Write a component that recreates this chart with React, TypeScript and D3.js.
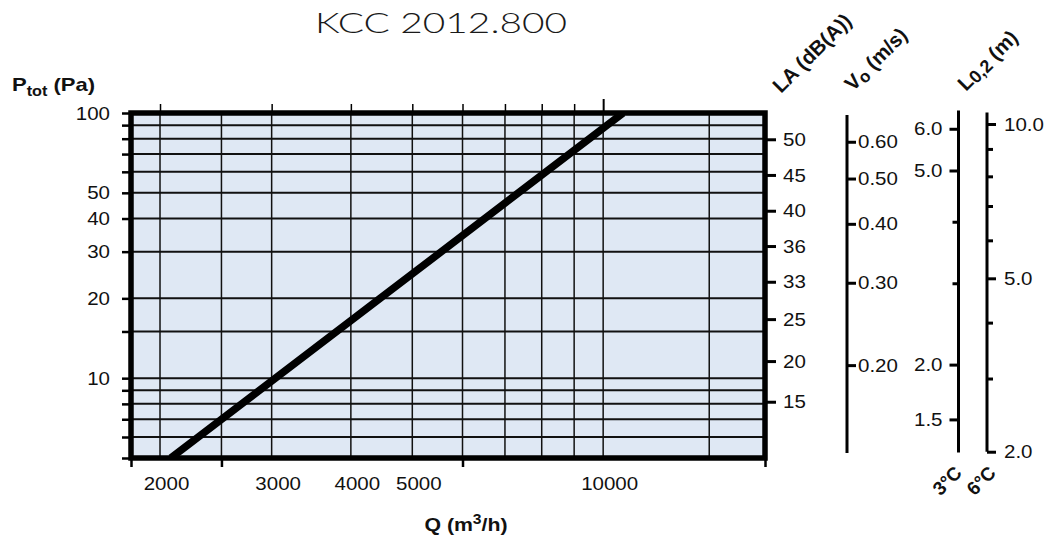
import React, { useEffect, useRef } from 'react';
import * as d3 from 'd3';

const title = 'KCC 2012.800';

// pressure axis, Ptot (Pa)
const pTicks = [100, 90, 80, 70, 60, 50, 40, 30, 20, 15, 10, 9, 8, 7, 6, 5];
const pLabels = [100, 50, 40, 30, 20, 10];
const pGrid = [90, 80, 70, 60, 50, 40, 30, 20, 15, 10, 9, 8, 7, 6];

// air flow axis, Q (m3/h)
const qGrid = [2000, 2500, 3000, 4000, 5000, 6000, 7000, 8000, 9000, 10000, 14700];
const qTopTicks = [2000, 3000, 4000, 5000, 6000, 7000, 8000, 9000];
const qTopMajor = [10000];
const qBottomTicks = [1800, 2500, 6000, 18000];
const qLabels = [2000, 3000, 4000, 5000, 10000];

// curve
const curveQ = [2080, 3040, 4450, 10750];
const curveP = [5, 10, 20, 100];

// side scales: label and the pressure it lines up with
const laLabels = ['50', '45', '40', '36', '33', '25', '20', '15'];
const laAtP = [79.6, 58.4, 42.8, 31.5, 23.1, 16.7, 11.6, 8.15];
const voLabels = ['0.60', '0.50', '0.40', '0.30', '0.20'];
const voAtP = [77.9, 56.6, 38.2, 22.9, 11.2];
const voSpan = [98.3, 5.22];
const l3Labels = ['6.0', '5.0', '', '', '2.0', '1.5'];
const l3AtP = [87.2, 60.7, 38.9, 22.8, 11.25, 6.99];
const l3Span = [102.2, 5.24];
const l6Labels = ['10.0', '', '', '', '', '5.0', '', '', '2.0'];
const l6AtP = [90.9, 73.2, 57.7, 44.6, 33.1, 23.8, 16.2, 9.97, 5.28];
const l6Span = [100.4, 5.28];

const FONT = '"Liberation Sans", Arial, sans-serif';

const stretch = (sel: any, origin: string, k = 1.08) =>
  sel.style('transform-box', 'fill-box').style('transform-origin', origin).style('transform', `scaleX(${k})`);

const App = () => {
  const ref = useRef<SVGSVGElement>(null);

  useEffect(() => {
    const svg = d3.select(ref.current);
    svg.selectAll('*').remove();

    const x = d3.scaleLog().domain([1800, 18000]).range([131, 765]);
    const y = d3.scaleLog().domain([100, 5]).range([113, 458]);
    const [x0, x1] = x.range();
    const [y0, y1] = y.range();

    // title
    svg.append('text')
      .attr('x', 441).attr('y', 33)
      .attr('text-anchor', 'middle')
      .attr('font-family', 'Lato, "Liberation Sans", sans-serif')
      .attr('font-weight', 300)
      .attr('font-size', 28)
      .attr('fill', '#1a1a1a')
      .attr('textLength', 252)
      .attr('lengthAdjust', 'spacingAndGlyphs')
      .text(title);

    // plot area
    svg.append('clipPath').attr('id', 'plot-clip')
      .append('rect').attr('x', x0).attr('y', y0).attr('width', x1 - x0).attr('height', y1 - y0);

    svg.append('rect')
      .attr('x', x0).attr('y', y0).attr('width', x1 - x0).attr('height', y1 - y0)
      .attr('fill', '#dfe8f4');

    svg.append('g').selectAll('line').data(pGrid).join('line')
      .attr('x1', x0).attr('x2', x1)
      .attr('y1', d => y(d)).attr('y2', d => y(d))
      .attr('stroke', '#111').attr('stroke-width', 2);

    svg.append('g').selectAll('line').data(qGrid).join('line')
      .attr('x1', d => x(d)).attr('x2', d => x(d))
      .attr('y1', y0).attr('y2', y1)
      .attr('stroke', '#111').attr('stroke-width', 1.5);

    const pts = curveQ.map((q, i) => [q, curveP[i]] as [number, number]);
    const line = d3.line<[number, number]>().x(d => x(d[0])).y(d => y(d[1]));
    svg.append('path')
      .datum(pts)
      .attr('d', line)
      .attr('clip-path', 'url(#plot-clip)')
      .attr('fill', 'none')
      .attr('stroke', '#000')
      .attr('stroke-width', 7.5);

    svg.append('rect')
      .attr('x', x0).attr('y', y0).attr('width', x1 - x0).attr('height', y1 - y0)
      .attr('fill', 'none').attr('stroke', '#000').attr('stroke-width', 5.5);

    const styleAxis = (g: any, tickWidth: number) => {
      g.attr('font-family', FONT).attr('font-size', 19);
      g.select('.domain').remove();
      g.selectAll('.tick line').attr('stroke', '#000').attr('stroke-width', tickWidth);
      g.selectAll('.tick text').attr('fill', '#111');
    };

    // left axis
    const gl = svg.append('g').attr('transform', `translate(${x0 - 2},0)`)
      .call(d3.axisLeft(y).tickValues(pTicks).tickSize(7).tickPadding(12)
        .tickFormat(d => (pLabels.includes(+d) ? String(d) : '')));
    styleAxis(gl, 2.5);
    stretch(gl.selectAll('.tick text'), 'right center');

    // top ticks
    const gt = svg.append('g').attr('transform', `translate(0,${y0 - 2})`)
      .call(d3.axisTop(x).tickValues(qTopTicks).tickSize(7).tickFormat(() => ''));
    styleAxis(gt, 1.5);
    const gt2 = svg.append('g').attr('transform', `translate(0,${y0 - 2})`)
      .call(d3.axisTop(x).tickValues(qTopMajor).tickSize(12).tickFormat(() => ''));
    styleAxis(gt2, 2);

    // bottom ticks + labels
    const gb = svg.append('g').attr('transform', `translate(0,${y1 + 2})`)
      .call(d3.axisBottom(x).tickValues(qBottomTicks).tickSize(7).tickFormat(() => ''));
    styleAxis(gb, 2.5);
    const gbl = svg.append('g').attr('transform', `translate(6,${y1})`)
      .call(d3.axisBottom(x).tickValues(qLabels).tickSize(0).tickPadding(19)
        .tickFormat(d => String(d)));
    styleAxis(gbl, 0);
    stretch(gbl.selectAll('.tick text'), 'center');

    // LA (dB(A)) scale on the frame
    const gla = svg.append('g').attr('transform', `translate(${x1 + 2},0)`)
      .call(d3.axisRight(y).tickValues(laAtP).tickSize(9).tickPadding(7)
        .tickFormat((_d, i) => laLabels[i]));
    styleAxis(gla, 3);
    stretch(gla.selectAll('.tick text'), 'left center');

    // Vo (m/s)
    const vx = 847;
    svg.append('line').attr('x1', vx).attr('x2', vx)
      .attr('y1', y(voSpan[0])).attr('y2', y(voSpan[1]))
      .attr('stroke', '#000').attr('stroke-width', 3);
    const gvo = svg.append('g').attr('transform', `translate(${vx},0)`)
      .call(d3.axisRight(y).tickValues(voAtP).tickSize(9).tickPadding(2)
        .tickFormat((_d, i) => voLabels[i]));
    styleAxis(gvo, 3);
    stretch(gvo.selectAll('.tick text'), 'left center');

    // L0,2 (m) at 3°C
    const l3x = 958.5;
    svg.append('line').attr('x1', l3x).attr('x2', l3x)
      .attr('y1', y(l3Span[0])).attr('y2', y(l3Span[1]))
      .attr('stroke', '#000').attr('stroke-width', 3);
    const gl3 = svg.append('g').attr('transform', `translate(${l3x},0)`)
      .call(d3.axisLeft(y).tickValues(l3AtP).tickSize(9).tickPadding(7)
        .tickFormat((_d, i) => l3Labels[i]));
    styleAxis(gl3, 3);
    gl3.selectAll('.tick line').attr('x2', (_d: any, i: number) => (l3Labels[i] ? -9 : -6));
    stretch(gl3.selectAll('.tick text'), 'right center');

    // L0,2 (m) at 6°C
    const l6x = 987;
    svg.append('line').attr('x1', l6x).attr('x2', l6x)
      .attr('y1', y(l6Span[0])).attr('y2', y(l6Span[1]))
      .attr('stroke', '#000').attr('stroke-width', 3);
    const gl6 = svg.append('g').attr('transform', `translate(${l6x},0)`)
      .call(d3.axisRight(y).tickValues(l6AtP).tickSize(9).tickPadding(8)
        .tickFormat((_d, i) => l6Labels[i]));
    styleAxis(gl6, 3);
    gl6.selectAll('.tick line').attr('x2', (_d: any, i: number) => (l6Labels[i] ? 9 : 6));
    stretch(gl6.selectAll('.tick text'), 'left center');

    // axis titles
    const bold = (t: any) => t.attr('font-family', FONT).attr('font-weight', 'bold').attr('fill', '#111');

    const pt = bold(svg.append('text').attr('x', 12).attr('y', 91).attr('font-size', 19));
    pt.append('tspan').text('P');
    pt.append('tspan').attr('font-size', 14).attr('dy', 5).text('tot');
    pt.append('tspan').attr('dy', -5).text(' (Pa)');
    stretch(pt, 'left center', 1.16);

    const qt = bold(svg.append('text').attr('x', 466).attr('y', 531)
      .attr('text-anchor', 'middle').attr('font-size', 19));
    qt.append('tspan').text('Q (m');
    qt.append('tspan').attr('font-size', 14).attr('dy', -7).text('3');
    qt.append('tspan').attr('dy', 7).text('/h)');
    stretch(qt, 'center', 1.12);

    const rotated = (px: number, py: number, anchor: string, size: number) =>
      bold(svg.append('text')
        .attr('transform', `translate(${px},${py}) rotate(-45)`)
        .attr('text-anchor', anchor)
        .attr('font-size', size));

    rotated(781, 94, 'start', 20.5).text('LA (dB(A))');

    const vt = rotated(853, 92, 'start', 20.5);
    vt.append('tspan').text('V');
    vt.append('tspan').attr('font-size', 17).attr('dy', 3).text('o');
    vt.append('tspan').attr('dy', -3).text(' (m/s)');

    const lt = rotated(966, 92, 'start', 20.5);
    lt.append('tspan').text('L');
    lt.append('tspan').attr('font-size', 18).attr('dy', 2).text('0,2');
    lt.append('tspan').attr('dy', -2).text(' (m)');

    rotated(963, 474, 'end', 19).text('3°C');
    rotated(997, 474, 'end', 19).text('6°C');
  }, []);

  return (
    <svg
      ref={ref}
      width={1059}
      height={543}
      style={{ position: 'absolute', left: 0, top: 0, background: '#fff' }}
    />
  );
};

export default App;
